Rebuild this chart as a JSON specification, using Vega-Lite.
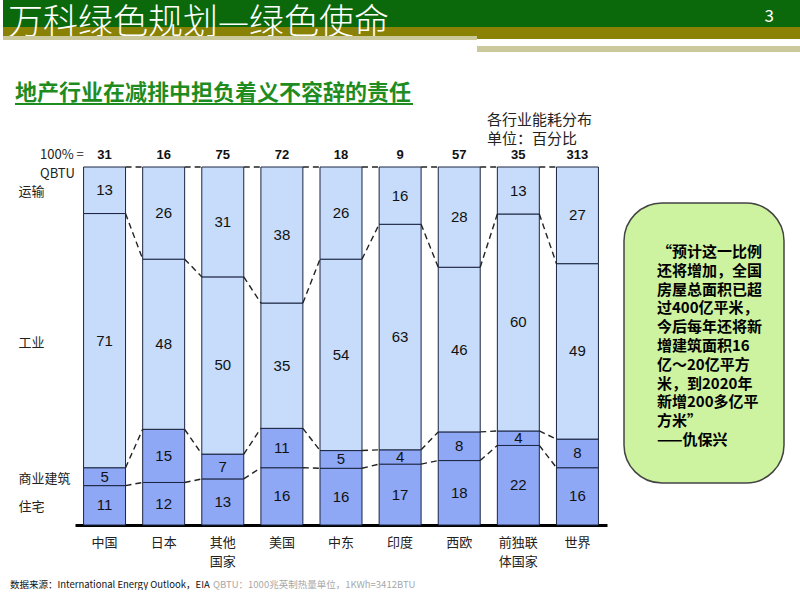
{
  "$schema": "https://vega.github.io/schema/vega-lite/v6.json",
  "background": "white",
  "padding": 0,
  "bounds": "flush",
  "spacing": 0,
  "config": {"view": {"stroke": null}, "concat": {"spacing": 0}, "font": "Noto Sans CJK SC"},
  "datasets": {
    "energy": [
      {"country": "中国", "order": 1, "sector": "住宅", "sorder": 1, "value": 11, "total": 31},
      {"country": "中国", "order": 1, "sector": "商业建筑", "sorder": 2, "value": 5, "total": 31},
      {"country": "中国", "order": 1, "sector": "工业", "sorder": 3, "value": 71, "total": 31},
      {"country": "中国", "order": 1, "sector": "运输", "sorder": 4, "value": 13, "total": 31},
      {"country": "日本", "order": 2, "sector": "住宅", "sorder": 1, "value": 12, "total": 16},
      {"country": "日本", "order": 2, "sector": "商业建筑", "sorder": 2, "value": 15, "total": 16},
      {"country": "日本", "order": 2, "sector": "工业", "sorder": 3, "value": 48, "total": 16},
      {"country": "日本", "order": 2, "sector": "运输", "sorder": 4, "value": 26, "total": 16},
      {"country": "其他国家", "order": 3, "sector": "住宅", "sorder": 1, "value": 13, "total": 75},
      {"country": "其他国家", "order": 3, "sector": "商业建筑", "sorder": 2, "value": 7, "total": 75},
      {"country": "其他国家", "order": 3, "sector": "工业", "sorder": 3, "value": 50, "total": 75},
      {"country": "其他国家", "order": 3, "sector": "运输", "sorder": 4, "value": 31, "total": 75},
      {"country": "美国", "order": 4, "sector": "住宅", "sorder": 1, "value": 16, "total": 72},
      {"country": "美国", "order": 4, "sector": "商业建筑", "sorder": 2, "value": 11, "total": 72},
      {"country": "美国", "order": 4, "sector": "工业", "sorder": 3, "value": 35, "total": 72},
      {"country": "美国", "order": 4, "sector": "运输", "sorder": 4, "value": 38, "total": 72},
      {"country": "中东", "order": 5, "sector": "住宅", "sorder": 1, "value": 16, "total": 18},
      {"country": "中东", "order": 5, "sector": "商业建筑", "sorder": 2, "value": 5, "total": 18},
      {"country": "中东", "order": 5, "sector": "工业", "sorder": 3, "value": 54, "total": 18},
      {"country": "中东", "order": 5, "sector": "运输", "sorder": 4, "value": 26, "total": 18},
      {"country": "印度", "order": 6, "sector": "住宅", "sorder": 1, "value": 17, "total": 9},
      {"country": "印度", "order": 6, "sector": "商业建筑", "sorder": 2, "value": 4, "total": 9},
      {"country": "印度", "order": 6, "sector": "工业", "sorder": 3, "value": 63, "total": 9},
      {"country": "印度", "order": 6, "sector": "运输", "sorder": 4, "value": 16, "total": 9},
      {"country": "西欧", "order": 7, "sector": "住宅", "sorder": 1, "value": 18, "total": 57},
      {"country": "西欧", "order": 7, "sector": "商业建筑", "sorder": 2, "value": 8, "total": 57},
      {"country": "西欧", "order": 7, "sector": "工业", "sorder": 3, "value": 46, "total": 57},
      {"country": "西欧", "order": 7, "sector": "运输", "sorder": 4, "value": 28, "total": 57},
      {"country": "前独联体国家", "order": 8, "sector": "住宅", "sorder": 1, "value": 22, "total": 35},
      {"country": "前独联体国家", "order": 8, "sector": "商业建筑", "sorder": 2, "value": 4, "total": 35},
      {"country": "前独联体国家", "order": 8, "sector": "工业", "sorder": 3, "value": 60, "total": 35},
      {"country": "前独联体国家", "order": 8, "sector": "运输", "sorder": 4, "value": 13, "total": 35},
      {"country": "世界", "order": 9, "sector": "住宅", "sorder": 1, "value": 16, "total": 313},
      {"country": "世界", "order": 9, "sector": "商业建筑", "sorder": 2, "value": 8, "total": 313},
      {"country": "世界", "order": 9, "sector": "工业", "sorder": 3, "value": 49, "total": 313},
      {"country": "世界", "order": 9, "sector": "运输", "sorder": 4, "value": 27, "total": 313}
    ]
  },
  "vconcat": [
    {"width": 800, "height": 27, "view": {"fill": "#0B690B", "stroke": null}, "data": {"values": []}, "mark": "text",
      "title": {"text": "3", "orient": "bottom", "anchor": "end", "frame": "group", "dx": -29, "offset": -18, "baseline": "top", "fontSize": 17, "fontWeight": "normal", "color": "white", "font": "Noto Sans CJK SC"}},
    {"width": 800, "height": 9, "view": {"fill": "#8A8204", "stroke": "#8A8204", "strokeWidth": 6, "strokeDash": [0, 809, 326, 3000]}, "data": {"values": []}, "mark": "text",
      "title": {"text": "万科绿色规划—绿色使命", "orient": "bottom", "anchor": "start", "frame": "group", "dx": 5, "offset": -30, "baseline": "top", "fontSize": 35, "fontWeight": 300, "color": "white", "font": "Noto Sans CJK SC"}},
    {"width": 474, "height": 4, "view": {"fill": "#CBC89C", "stroke": null}, "data": {"values": []}, "mark": "text"},
    {"width": 800, "height": 9, "data": {"values": []}, "mark": "text"},
    {"width": 800, "height": 1, "view": {"stroke": "#CBC89C", "strokeWidth": 6, "strokeDash": [0, 474, 326, 3000]}, "data": {"values": []}, "mark": "text"},
    {"width": 800, "height": 54, "data": {"values": []}, "mark": "text"},
    {"width": 800, "height": 1, "view": {"stroke": "#1F8C1F", "strokeWidth": 2, "strokeDash": [0, 12, 398, 3000]}, "data": {"values": []}, "mark": "text",
      "title": {"text": "地产行业在减排中担负着义不容辞的责任", "orient": "bottom", "anchor": "start", "frame": "group", "dx": 12, "offset": -22, "baseline": "top", "fontSize": 22, "fontWeight": "bold", "color": "#1F8C1F", "font": "Noto Sans CJK SC"}},
    {"width": 800, "height": 45, "data": {"values": []}, "mark": "text",
      "title": {"text": ["各行业能耗分布", "单位：百分比"], "orient": "bottom", "anchor": "start", "frame": "group", "dx": 484, "offset": -37, "baseline": "top", "align": "left", "fontSize": 15, "fontWeight": "normal", "lineHeight": 18.5, "color": "#222", "font": "Noto Sans CJK SC"}},
    {"width": 800, "height": 17, "data": {"values": []}, "mark": "text",
      "title": {"text": ["100% =", "QBTU"], "orient": "bottom", "anchor": "start", "frame": "group", "dx": 37, "offset": -18, "baseline": "top", "align": "left", "fontSize": 13, "fontWeight": "normal", "lineHeight": 19, "color": "#222", "font": "Noto Sans CJK SC"}},
    {
      "width": 800,
      "height": 358,
      "resolve": {"scale": {"x": "independent", "y": "independent"}},
      "layer": [
        {
          "data": {"values": [{"panel": "quote"}]},
          "mark": {"type": "rect", "cornerRadius": 38, "fill": "#CDF2A0", "stroke": "#444444", "strokeWidth": 1.5},
          "encoding": {
            "x": {"field": "panel", "type": "nominal", "scale": {"domain": ["quote"], "range": [621, 781], "paddingInner": 0, "paddingOuter": 0}, "axis": null},
            "y": {"field": "panel", "type": "nominal", "scale": {"domain": ["quote"], "paddingInner": 0, "paddingOuter": 0.1393, "align": 0.4615}, "axis": null}
          }
        },
        {
          "data": {"name": "energy"},
          "transform": [
            {"stack": "value", "groupby": ["country"], "sort": [{"field": "sorder", "order": "ascending"}], "offset": "normalize", "as": ["y0", "y1"]}
          ],
          "encoding": {
            "x": {
              "field": "country", "type": "nominal",
              "scale": {"domain": ["中国", "日本", "其他国家", "美国", "中东", "印度", "西欧", "前独联体国家", "世界"], "range": [72, 604], "paddingInner": 0.29, "paddingOuter": 0.145},
              "axis": {
                "title": null, "domain": true, "domainColor": "#000", "domainWidth": 3, "ticks": false,
                "labelPadding": 11, "labelFontSize": 13, "labelColor": "#222", "labelAngle": 0, "labelLineHeight": 19,
                "labelOverlap": false, "labelFont": "Noto Sans CJK SC",
                "labelExpr": "datum.value == '其他国家' ? ['其他', '国家'] : datum.value == '前独联体国家' ? ['前独联', '体国家'] : datum.value"
              }
            }
          },
          "layer": [
            {
              "mark": {"type": "bar", "stroke": "#1B2440", "strokeWidth": 1},
              "encoding": {
                "y": {"field": "y0", "type": "quantitative", "scale": {"domain": [0, 1], "nice": false}, "axis": null},
                "y2": {"field": "y1"},
                "color": {
                  "field": "sector", "type": "nominal",
                  "scale": {"domain": ["住宅", "商业建筑", "工业", "运输"], "range": ["#8EA8F5", "#8EA8F5", "#C6DCFA", "#C6DCFA"]},
                  "legend": null
                }
              }
            },
            {
              "transform": [
                {"window": [{"op": "lead", "field": "y1", "as": "ny"}, {"op": "lead", "field": "country", "as": "nc"}], "groupby": ["sector"], "sort": [{"field": "order", "order": "ascending"}]},
                {"filter": "datum.nc != null"}
              ],
              "mark": {"type": "rule", "strokeDash": [6, 4], "color": "#222", "strokeWidth": 1.4},
              "encoding": {
                "x": {"field": "country", "type": "nominal", "bandPosition": 1, "title": null},
                "x2": {"field": "nc", "bandPosition": 0},
                "y": {"field": "y1", "type": "quantitative", "axis": null},
                "y2": {"field": "ny"}
              }
            },
            {
              "transform": [
                {"fold": ["y0", "y1"], "as": ["edge", "pos"]},
                {"aggregate": [{"op": "mean", "field": "pos", "as": "mid"}], "groupby": ["country", "sector", "value"]}
              ],
              "mark": {"type": "text", "fontSize": 15, "font": "Liberation Sans", "color": "#111"},
              "encoding": {
                "y": {"field": "mid", "type": "quantitative", "axis": null},
                "text": {"field": "value", "type": "quantitative"}
              }
            },
            {
              "transform": [{"filter": "datum.sector == '运输'"}],
              "mark": {"type": "text", "dy": -12, "fontSize": 13, "fontWeight": "bold", "font": "Liberation Sans", "color": "#111"},
              "encoding": {
                "y": {"field": "y1", "type": "quantitative", "axis": null},
                "text": {"field": "total", "type": "quantitative"}
              }
            },
            {
              "transform": [
                {"filter": "datum.country == '中国'"},
                {"fold": ["y0", "y1"], "as": ["edge", "pos"]},
                {"aggregate": [{"op": "mean", "field": "pos", "as": "mid"}], "groupby": ["country", "sector"]}
              ],
              "mark": {"type": "text", "align": "left", "dx": -65, "dy": 2, "fontSize": 13, "color": "#222", "font": "Noto Sans CJK SC"},
              "encoding": {
                "x": {"field": "country", "type": "nominal", "bandPosition": 0, "title": null},
                "y": {"field": "mid", "type": "quantitative", "axis": null},
                "text": {"field": "sector", "type": "nominal"}
              }
            }
          ]
        }
      ]
    },
    {"width": 800, "height": 51, "data": {"values": []}, "mark": "text",
      "title": {
        "text": ["“预计这一比例", "还将增加，全国", "房屋总面积已超", "过400亿平米，", "今后每年还将新", "增建筑面积16", "亿～20亿平方", "米，到2020年", "新增200多亿平", "方米”", "——仇保兴"],
        "orient": "bottom", "anchor": "start", "frame": "group", "dx": 654, "offset": -331, "baseline": "top", "align": "left",
        "fontSize": 15, "fontWeight": "bold", "lineHeight": 18.8, "color": "#000", "font": "Noto Sans CJK SC"
      }
    },
    {"width": 800, "height": 1, "data": {"values": []}, "mark": "text",
      "title": {"text": "数据来源：International Energy Outlook，EIA", "orient": "bottom", "anchor": "start", "frame": "group", "dx": 7, "offset": 3, "baseline": "top", "fontSize": 9.5, "fontWeight": "normal", "color": "#111", "font": "Liberation Sans Narrow, Noto Sans CJK SC"}},
    {"width": 800, "height": 1, "data": {"values": []}, "mark": "text",
      "title": {"text": "QBTU：1000兆英制热量单位，1KWh=3412BTU", "orient": "bottom", "anchor": "start", "frame": "group", "dx": 210, "offset": 2, "baseline": "top", "fontSize": 9.5, "fontWeight": "normal", "color": "#A8A8A8", "font": "Liberation Sans Narrow, Noto Sans CJK SC"}}
  ]
}
